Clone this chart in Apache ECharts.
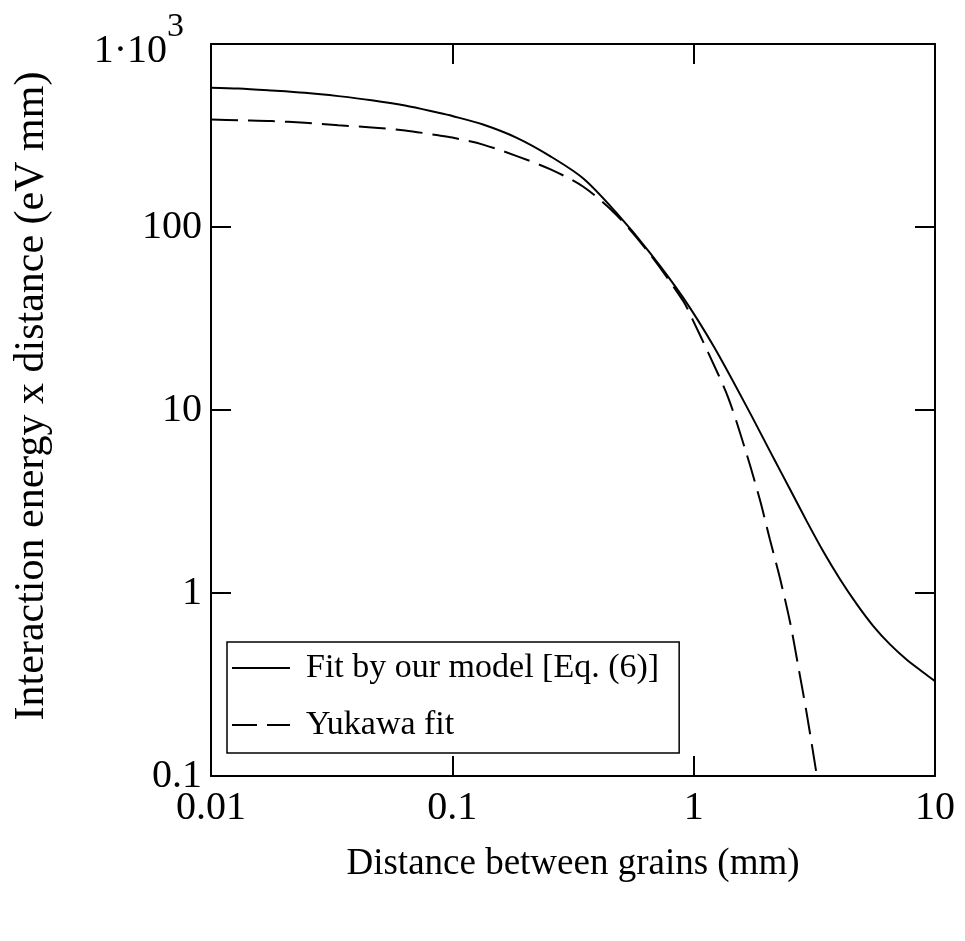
<!DOCTYPE html>
<html>
<head>
<meta charset="utf-8">
<script src="https://cdn.jsdelivr.net/npm/echarts@6/dist/echarts.min.js"></script>
<style>html,body{margin:0;padding:0;background:#fff;}#c{width:965px;height:941px;}</style>
</head>
<body>
<div id="c"></div>
<script>
// Fit by our model [Eq. (6)]
var xModel = [0.01, 0.013, 0.0178, 0.0245, 0.0337, 0.0463, 0.0637, 0.0875, 0.1, 0.134, 0.185, 0.254, 0.349, 0.48, 0.659, 0.906, 1.21, 1.66, 2.14, 2.51, 2.94, 3.45, 4.04, 4.74, 5.55, 6.51, 7.64, 8.95, 10];
var yModel = [577, 571, 557, 541, 519, 493, 461, 421, 404, 363, 307, 244, 184, 119, 72.3, 41.0, 22.3, 10.4, 5.48, 3.68, 2.47, 1.68, 1.19, 0.87, 0.66, 0.524, 0.432, 0.368, 0.33];
// Yukawa fit
var xYukawa = [0.01, 0.013, 0.0178, 0.0245, 0.0337, 0.0463, 0.0637, 0.0875, 0.1, 0.134, 0.185, 0.254, 0.349, 0.48, 0.659, 0.906, 0.99, 1.15, 1.39, 1.66, 1.88, 2.07, 2.28, 2.51, 2.71, 2.94, 3.24];
var yYukawa = [387, 383, 379, 371, 360, 350, 337, 317, 308, 282, 244, 207, 166, 116, 71, 39.3, 31.2, 20.5, 11.7, 5.71, 3.24, 1.96, 1.20, 0.69, 0.40, 0.22, 0.1];

var seriesNames = ['Fit by our model [Eq. (6)]', 'Yukawa fit'];
var xTickValues = [0.01, 0.1, 1, 10];
var xTickLabels = ['0.01', '0.1', '1', '10'];
var yTickValues = [0.1, 1, 10, 100, 1000];
var yTickLabels = ['0.1', '1', '10', '100', '{b|1·10}{s|3}'];
var xTitle = 'Distance between grains (mm)';
var yTitle = 'Interaction energy x distance (eV mm)';

function pairs(xs, ys) { return xs.map(function (x, i) { return [x, ys[i]]; }); }
function lookup(vals, labels, v) {
  for (var i = 0; i < vals.length; i++) {
    if (Math.abs(Math.log10(v) - Math.log10(vals[i])) < 1e-6) return labels[i];
  }
  return '';
}

var FONT = '"Liberation Serif", "Times New Roman", serif';
var axisLine = { show: true, onZero: false, lineStyle: { color: '#000', width: 2 } };
var axisTick = { show: true, inside: true, length: 20, lineStyle: { color: '#000', width: 2 } };

var chart = echarts.init(document.getElementById('c'), null, { renderer: 'canvas' });
chart.setOption({
  backgroundColor: '#fff',
  animation: false,
  grid: { left: 211, top: 44, right: 30, bottom: 165, containLabel: false },
  legend: {
    orient: 'vertical',
    left: 227, top: 642,
    data: [
      { name: seriesNames[0], icon: 'path://M0,0H58V2H0Z' },
      { name: seriesNames[1], icon: 'path://M0,0H25V2H0ZM35,0H58V2H35Z' }
    ],
    itemWidth: 58, itemHeight: 2, itemGap: 17, symbolKeepAspect: false,
    padding: [6, 0, 8, 5],
    borderColor: '#000', borderWidth: 1.5, backgroundColor: '#fff',
    textStyle: { fontFamily: FONT, fontSize: 34, color: '#000', lineHeight: 40, padding: [0, 20, 0, 11] }
  },
  xAxis: [{
    type: 'log', logBase: 10, min: 0.01, max: 10, position: 'bottom',
    axisLine: axisLine, axisTick: axisTick, minorTick: { show: false }, splitLine: { show: false },
    axisLabel: { margin: 12, fontFamily: FONT, fontSize: 40, color: '#000',
      formatter: function (v) { return lookup(xTickValues, xTickLabels, v); } },
    name: xTitle, nameLocation: 'middle', nameGap: 70,
    nameTextStyle: { fontFamily: FONT, fontSize: 37, color: '#000' }
  }, {
    type: 'log', logBase: 10, min: 0.01, max: 10, position: 'top',
    axisLine: axisLine, axisTick: axisTick, axisLabel: { show: false }, splitLine: { show: false }
  }],
  yAxis: [{
    type: 'log', logBase: 10, min: 0.1, max: 1000, position: 'left',
    axisLine: axisLine, axisTick: axisTick, minorTick: { show: false }, splitLine: { show: false },
    axisLabel: { margin: 9, fontFamily: FONT, fontSize: 40, color: '#000',
      formatter: function (v) { return lookup(yTickValues, yTickLabels, v); },
      rich: {
        b: { fontFamily: FONT, fontSize: 40, color: '#000', padding: [14, 0, 0, 0] },
        s: { fontFamily: FONT, fontSize: 34, color: '#000', verticalAlign: 'top', padding: [0, 18, 34, 0] }
      } },
    name: yTitle, nameLocation: 'middle', nameRotate: 90, nameGap: 158,
    nameTextStyle: { fontFamily: FONT, fontSize: 42, color: '#000', padding: [0, 0, 0, 28] }
  }, {
    type: 'log', logBase: 10, min: 0.1, max: 1000, position: 'right',
    axisLine: axisLine, axisTick: axisTick, axisLabel: { show: false }, splitLine: { show: false }
  }],
  series: [{
    name: seriesNames[0], type: 'line', xAxisIndex: 0, yAxisIndex: 0,
    data: pairs(xModel, yModel), symbol: 'none', smooth: 0.3, clip: true,
    lineStyle: { color: '#000', width: 2, type: 'solid' }, itemStyle: { color: '#000' }
  }, {
    name: seriesNames[1], type: 'line', xAxisIndex: 0, yAxisIndex: 0,
    data: pairs(xYukawa, yYukawa), symbol: 'none', smooth: 0.3, clip: true,
    lineStyle: { color: '#000', width: 2, type: [27, 10] }, itemStyle: { color: '#000' }
  }]
});
</script>
</body>
</html>
